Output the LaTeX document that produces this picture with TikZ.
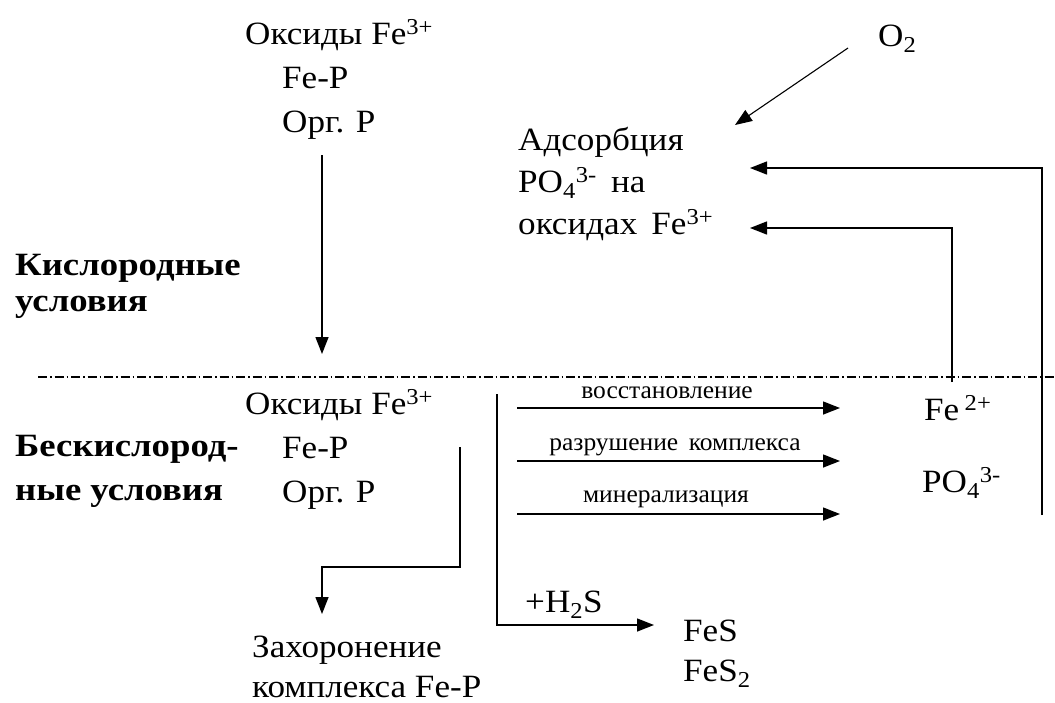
\documentclass[tikz,border=0pt]{standalone}
\usepackage{fontspec}
\setmainfont[FakeStretch=1.08,BoldFeatures={FakeStretch=1.13}]{Liberation Serif}
\newfontfamily\labelfont[FakeStretch=1.02]{Liberation Serif}
\usetikzlibrary{arrows.meta}
\begin{document}
\begin{tikzpicture}[x=1pt,y=-1pt,
  txt/.style={anchor=base west,inner sep=0pt,font=\fontsize{32.5}{34}\selectfont},
  boldtxt/.style={anchor=base west,inner sep=0pt,font=\fontsize{32.5}{34}\selectfont\bfseries},
  arrlabel/.style={anchor=base,inner sep=0pt,font=\labelfont\fontsize{25}{27}\selectfont},
  line/.style={line width=1.4pt},
  flow/.style={line, -{Triangle[length=17pt,width=13pt]}},
  boundary/.style={line width=1.2pt, dash pattern=on 9pt off 3pt on 1.5pt off 3pt}]
\useasboundingbox (0,0) rectangle (1055,702);

% aerobic layer
\node[txt] (ox1) at (245,44) {Оксиды Fe\textsuperscript{3+}};
\node[txt] (fep1) at (282,88) {Fe-P};
\node[txt] (org1) at (282,132) {Орг. Р};
\node[txt] (o2) at (878,46) {O\textsubscript{2}};
\node[txt] (ads1) at (518,150) {Адсорбция};
\node[txt] (ads2) at (518,192) {PO\textsubscript{4}\textsuperscript{3-}\, на};
\node[txt] (ads3) at (518,234) {оксидах\, Fe\textsuperscript{3+}};
\node[boldtxt] (cond1) at (15,275) {Кислородные};
\node[boldtxt] (cond2) at (15,311) {условия};

% boundary between layers
\coordinate (bl) at (38,377);
\coordinate (br) at (1055,377);
\draw[boundary] (bl) -- (br);

% anaerobic layer
\node[txt] (ox2) at (245,414) {Оксиды Fe\textsuperscript{3+}};
\node[txt] (fep2) at (282,458) {Fe-P};
\node[txt] (org2) at (282,502) {Орг. Р};
\node[boldtxt] (cond3) at (15,456) {Бескислород-};
\node[boldtxt] (cond4) at (15,500) {ные условия};
\node[txt] (fe2) at (924,420) {Fe\,\textsuperscript{2+}};
\node[txt] (po4) at (922,492) {PO\textsubscript{4}\textsuperscript{3-}};
\node[txt] (fes1) at (683,641) {FeS};
\node[txt] (fes2) at (683,681) {FeS\textsubscript{2}};
\node[txt] (bur1) at (252,657) {Захоронение};
\node[txt] (bur2) at (252,697) {комплекса Fe-P};
\node[txt] (h2s) at (525,612) {+H\textsubscript{2}S};

% process labels over the horizontal arrows
\node[arrlabel] (l1) at (667,398) {восстановление};
\node[arrlabel] (l2) at (675,450) {разрушение\, комплекса};
\node[arrlabel] (l3) at (666,502) {минерализация};

% connectors
\coordinate (a1s) at (322,155);
\coordinate (a1e) at (322,354);
\draw[flow] (a1s) -- (a1e);

\coordinate (o2s) at (848,48);
\coordinate (o2e) at (735,125);
\draw[flow,line width=1.1pt] (o2s) -- (o2e);

\coordinate (r1) at (1042,515);
\coordinate (r1t) at (1042,168);
\coordinate (r1e) at (750,168);
\draw[flow] (r1) -- (r1t) -- (r1e);

\coordinate (r2) at (952,382);
\coordinate (r2t) at (952,228);
\coordinate (r2e) at (750,228);
\draw[flow] (r2) -- (r2t) -- (r2e);

\coordinate (p1s) at (517,408);
\coordinate (p1e) at (840,408);
\draw[flow] (p1s) -- (p1e);
\coordinate (p2s) at (517,461);
\coordinate (p2e) at (840,461);
\draw[flow] (p2s) -- (p2e);
\coordinate (p3s) at (517,514);
\coordinate (p3e) at (840,514);
\draw[flow] (p3s) -- (p3e);

\coordinate (b1) at (460,447);
\coordinate (b1c) at (460,567);
\coordinate (b1d) at (322,567);
\coordinate (b1e) at (322,614);
\draw[flow] (b1) -- (b1c) -- (b1d) -- (b1e);

\coordinate (s1) at (497,394);
\coordinate (s1c) at (497,625);
\coordinate (s1e) at (654,625);
\draw[flow] (s1) -- (s1c) -- (s1e);
\end{tikzpicture}
\end{document}
